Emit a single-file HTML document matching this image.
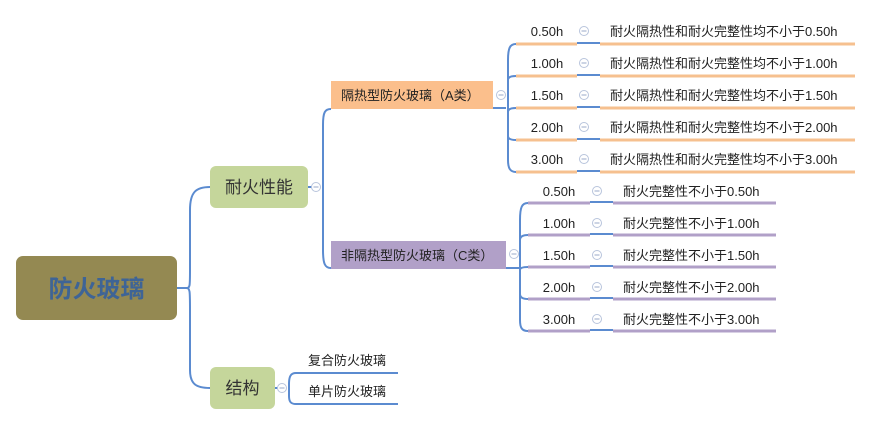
<!DOCTYPE html>
<html><head><meta charset="utf-8"><style>
body{margin:0;width:872px;height:426px;background:#fff;overflow:hidden}
svg{display:block}
text{font-family:"Liberation Sans","Noto Sans CJK SC",sans-serif;fill:#222}
</style></head><body>
<svg width="872" height="426" viewBox="0 0 872 426" xmlns="http://www.w3.org/2000/svg">
<g fill="none" stroke="#5b8bd0" stroke-width="2">
<!-- root to children -->
<path d="M177 288 H186 C190 288 190 287 190 270 V210 C190 192 196 187 210 187"/>
<path d="M186 288 C190 288 190 290 190 310 V370 C190 384 196 388 210 388"/>
<!-- 耐火性能 to A/C -->
<path d="M308 187 H320"/>
<path d="M331 109 C325 109 323 112 323 125 V250 C323 264 325 268 331 268"/>
<!-- A leaves -->
<path d="M493 108 H506"/>
<path d="M516 44 C510 44 508 48 508 60 V160 C508 168 510 172 516 172"/>
<path d="M508 80 C508 78 510 76 516 76 M508 112 C508 110 510 108 516 108 M508 136 C508 138 510 140 516 140"/>
<!-- C leaves -->
<path d="M506 268 H520"/>
<path d="M528 203 C522 203 520 207 520 220 V320 C520 328 522 331 528 331"/>
<path d="M520 240 C520 237 522 235 528 235 M520 270 C520 268 522 267 528 267 M520 294 C520 297 522 299 528 299"/>
<!-- structure leaves -->
<path d="M275 388 H284"/>
<path d="M296 373 C291 373 289 376 289 384 V396 C289 402 291 404 296 404"/>
<path d="M296 373 H398 M296 404 H398"/>
</g>
<!-- A leaf lines -->
<g stroke-width="3">
<g stroke="#f6c08f"><path d="M516 44H577M600 44H855M516 76H577M600 76H855M516 108H577M600 108H855M516 140H577M600 140H855M516 172H577M600 172H855"/></g>
<g stroke="#5b8bd0" stroke-width="2"><path d="M577 43H600M577 75H600M577 107H600M577 139H600M577 171H600"/></g>
<g stroke="#b1a0c8"><path d="M528 203H590M613 203H776M528 235H590M613 235H776M528 267H590M613 267H776M528 299H590M613 299H776M528 331H590M613 331H776"/></g>
<g stroke="#5b8bd0" stroke-width="2"><path d="M590 202H613M590 234H613M590 266H613M590 298H613M590 330H613"/></g>
</g>
<!-- boxes -->
<rect x="16" y="256" width="161" height="64" rx="7" fill="#948952"/>
<text x="96.5" y="297" font-size="24" font-weight="bold" text-anchor="middle" style="fill:#3e6496">防火玻璃</text>
<rect x="210" y="166" width="98" height="42" rx="6" fill="#c5d69b"/>
<text x="259" y="193" font-size="17" text-anchor="middle" style="fill:#333">耐火性能</text>
<rect x="210" y="367" width="65" height="42" rx="6" fill="#c5d69b"/>
<text x="242.5" y="394" font-size="17" text-anchor="middle" style="fill:#333">结构</text>
<rect x="331" y="81" width="162" height="28" fill="#fbbf8c"/>
<text x="341" y="100" font-size="13">隔热型防火玻璃（A类）</text>
<rect x="331" y="241" width="175" height="28" fill="#b1a0c8"/>
<text x="341" y="260" font-size="13">非隔热型防火玻璃（C类）</text>
<text x="308" y="365" font-size="13">复合防火玻璃</text>
<text x="308" y="396" font-size="13">单片防火玻璃</text>
<!-- A leaf texts -->
<g font-size="13">
<text x="547" y="36" text-anchor="middle">0.50h</text>
<text x="547" y="68" text-anchor="middle">1.00h</text>
<text x="547" y="100" text-anchor="middle">1.50h</text>
<text x="547" y="132" text-anchor="middle">2.00h</text>
<text x="547" y="164" text-anchor="middle">3.00h</text>
<text x="610" y="36">耐火隔热性和耐火完整性均不小于0.50h</text>
<text x="610" y="68">耐火隔热性和耐火完整性均不小于1.00h</text>
<text x="610" y="100">耐火隔热性和耐火完整性均不小于1.50h</text>
<text x="610" y="132">耐火隔热性和耐火完整性均不小于2.00h</text>
<text x="610" y="164">耐火隔热性和耐火完整性均不小于3.00h</text>
<text x="559" y="196" text-anchor="middle">0.50h</text>
<text x="559" y="228" text-anchor="middle">1.00h</text>
<text x="559" y="260" text-anchor="middle">1.50h</text>
<text x="559" y="292" text-anchor="middle">2.00h</text>
<text x="559" y="324" text-anchor="middle">3.00h</text>
<text x="623" y="196">耐火完整性不小于0.50h</text>
<text x="623" y="228">耐火完整性不小于1.00h</text>
<text x="623" y="260">耐火完整性不小于1.50h</text>
<text x="623" y="292">耐火完整性不小于2.00h</text>
<text x="623" y="324">耐火完整性不小于3.00h</text>
</g>
<!-- collapse circles -->
<g fill="#fff" stroke="#b8c4dc" stroke-width="1">
<circle cx="316" cy="187" r="4.5"/><circle cx="501" cy="95" r="4.5"/><circle cx="514" cy="254" r="4.5"/><circle cx="282" cy="388" r="4.5"/>
<circle cx="584" cy="31" r="4.5"/><circle cx="584" cy="63" r="4.5"/><circle cx="584" cy="95" r="4.5"/><circle cx="584" cy="127" r="4.5"/><circle cx="584" cy="159" r="4.5"/>
<circle cx="597" cy="191" r="4.5"/><circle cx="597" cy="223" r="4.5"/><circle cx="597" cy="255" r="4.5"/><circle cx="597" cy="287" r="4.5"/><circle cx="597" cy="319" r="4.5"/>
</g>
<g stroke="#9aa8c8" stroke-width="1">
<path d="M313.5 187h5M498.5 95h5M511.5 254h5M279.5 388h5M581.5 31h5M581.5 63h5M581.5 95h5M581.5 127h5M581.5 159h5M594.5 191h5M594.5 223h5M594.5 255h5M594.5 287h5M594.5 319h5"/>
</g>
</svg>
</body></html>
